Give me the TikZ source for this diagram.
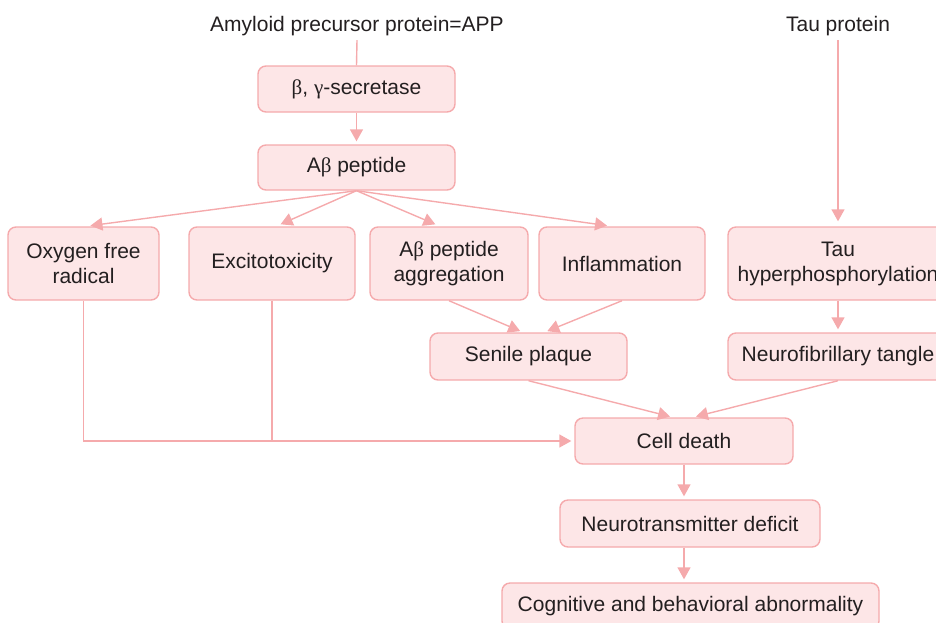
\documentclass[tikz,border=0pt]{standalone}
\usepackage{fontspec}
\setmainfont{Liberation Sans}
\newfontfamily\grk{Liberation Serif}
\usetikzlibrary{arrows.meta}
\definecolor{boxfill}{HTML}{FDE6E7}
\definecolor{boxline}{HTML}{F5AAAC}
\definecolor{txt}{HTML}{231F20}

\begin{document}
\begin{tikzpicture}[x=0.5pt, y=-0.5pt,
    stage/.style ={rectangle, rounded corners=4pt, draw=boxline, fill=boxfill, line width=0.7pt,
                   inner sep=0pt, align=center, text=txt, font=\fontsize{10.5}{12.5}\selectfont},
    title/.style ={inner sep=2pt, text=txt, font=\fontsize{10.5}{12.5}\selectfont},
    plain/.style ={draw=boxline, line width=0.7pt},
    link/.style  ={plain, -{Triangle[length=6pt,width=6.5pt]}, shorten >=1.5pt}]
   \useasboundingbox (0,0) rectangle (936,622);
   \node[title] (app)  at (357,26)  {Amyloid precursor protein=APP};
   \node[title] (tau)  at (838,26)  {Tau protein};
   \node[stage, minimum width=98.5pt, minimum height=23pt]   (sec)    at (356.5,89)    {{\grk β}, {\grk γ}-secretase};
   \node[stage, minimum width=98.5pt, minimum height=22.5pt] (abeta)  at (356.5,167.5) {A{\grk β} peptide};
   \node[stage, minimum width=75.5pt, minimum height=36.5pt] (oxy)    at (83.5,263.5)  {Oxygen free\\radical};
   \node[stage, minimum width=83pt,   minimum height=36.5pt] (exc)    at (272,263.5)   {Excitotoxicity};
   \node[stage, minimum width=79pt,   minimum height=36.5pt] (agg)    at (449,263.5)   {A{\grk β} peptide\\aggregation};
   \node[stage, minimum width=83pt,   minimum height=36.5pt] (infl)   at (622,263.5)   {Inflammation};
   \node[stage, minimum width=110pt,  minimum height=36.5pt] (tauh)   at (838,263.5)   {Tau\\hyperphosphorylation};
   \node[stage, minimum width=98.5pt, minimum height=23.5pt] (senile) at (528.5,356.5) {Senile plaque};
   \node[stage, minimum width=110pt,  minimum height=23.5pt] (nft)    at (838,356.5)   {Neurofibrillary tangle};
   \node[stage, minimum width=109pt,  minimum height=23pt]   (cell)   at (684,441)     {Cell death};
   \node[stage, minimum width=130pt,  minimum height=23.5pt] (neuro)  at (690,523.5)   {Neurotransmitter deficit};
   \node[stage, minimum width=188.5pt,minimum height=23pt]   (cog)    at (690.5,606)   {Cognitive and behavioral abnormality};
   % APP branch
   \draw[plain] (app.south) -- (sec.north);
   \draw[link] (sec.south) -- (abeta.north);
   \draw[link, shorten >=2.5pt] (abeta.south) -- ([xshift=1pt]oxy.north);
   \draw[link, shorten >=2.5pt] (abeta.south) -- ([xshift=2pt]exc.north);
   \draw[link, shorten >=2.5pt] (abeta.south) -- ([xshift=-4.5pt]agg.north);
   \draw[link, shorten >=2.5pt] (abeta.south) -- ([xshift=-5pt]infl.north);
   \draw[link] (agg.south) -- ([xshift=-2.75pt]senile.north);
   \draw[link] (infl.south) -- ([xshift=8pt]senile.north);
   % tau branch
   \draw[link, shorten >=2.5pt] (tau.south) -- (tauh.north);
   \draw[link] (tauh.south) -- (nft.north);
   % towards cell death
   \draw[link] (senile.south) -- ([xshift=-5.5pt]cell.north);
   \draw[link] (nft.south) -- ([xshift=4.5pt]cell.north);
   \draw[link] (oxy.south) |- (cell.west);
   \draw[plain] (exc.south) -- (exc.south |- cell.west);
   \draw[link] (cell.south) -- (cell.south |- neuro.north);
   \draw[link] (cell.south |- neuro.south) -- (cell.south |- cog.north);
\end{tikzpicture}
\end{document}
